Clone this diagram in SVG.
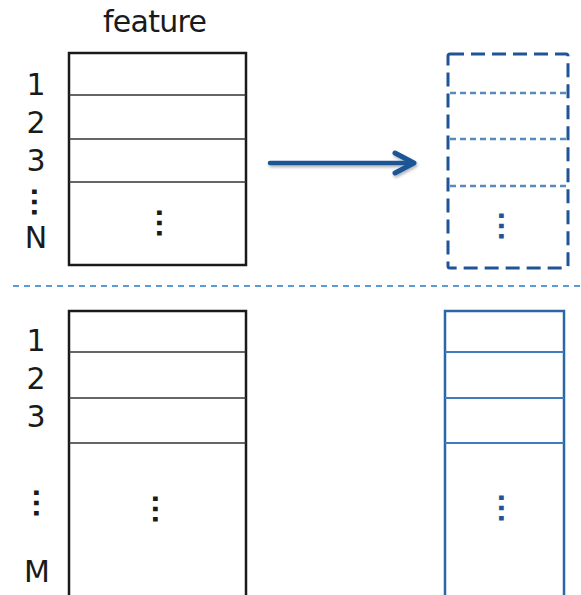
<svg xmlns="http://www.w3.org/2000/svg" width="581" height="595" viewBox="0 0 581 595">
<style>
.t{font-family:"DejaVu Sans","Liberation Sans",sans-serif;font-size:30px;fill:#1a1a1a}
.lbl{text-anchor:middle}
.v{font-family:"Liberation Sans",Arial,sans-serif;font-size:32px;font-weight:bold;fill:#1a1a1a;text-anchor:middle}
.box{fill:#fff;stroke:#1a1a1a;stroke-width:2.5}
.row{stroke:#333;stroke-width:1.5}
.dbox{fill:none;stroke:#1f5596;stroke-width:3;stroke-dasharray:14 7;stroke-linejoin:round}
.drow{stroke:#3d76b3;stroke-width:2.5;stroke-dasharray:6 4;opacity:0.85}
.bbox{fill:#fff;stroke:#2a66a8;stroke-width:2.5}
.brow{stroke:#3f7bbd;stroke-width:1.8}
</style>
<defs>
<filter id="sh" x="-10%" y="-50%" width="120%" height="200%">
<feDropShadow dx="1" dy="2" stdDeviation="1.5" flood-color="#000" flood-opacity="0.3"/>
</filter>
</defs>

<g id="header">
<text class="t" x="155" y="32" text-anchor="middle" textLength="104">feature</text>
</g>

<g id="input-top">
<rect class="box" x="69" y="53" width="177" height="212"/>
<line class="row" x1="69" y1="95" x2="246" y2="95"/>
<line class="row" x1="69" y1="139" x2="246" y2="139"/>
<line class="row" x1="69" y1="182" x2="246" y2="182"/>
<text class="v" transform="translate(156.5,223) rotate(90)">…</text>
</g>

<g id="labels-top">
<text class="t lbl" x="36" y="95">1</text>
<text class="t lbl" x="36" y="133">2</text>
<text class="t lbl" x="36" y="171">3</text>
<text class="v" transform="translate(31.5,202) rotate(90)">…</text>
<text class="t lbl" x="36" y="248">N</text>
</g>

<g id="output-top">
<rect class="dbox" x="448" y="54" width="120" height="214" rx="2"/>
<line class="drow" x1="450" y1="93" x2="566" y2="93"/>
<line class="drow" x1="450" y1="139" x2="566" y2="139"/>
<line class="drow" x1="450" y1="186" x2="566" y2="186"/>
<text class="v" transform="translate(498.5,226) rotate(90)" style="fill:#1f5596">…</text>
</g>

<g id="separator">
<line x1="13" y1="286" x2="580" y2="286" stroke="#5b9bd5" stroke-width="2" stroke-dasharray="6 5"/>
</g>

<g id="input-bottom">
<rect class="box" x="69" y="311" width="177" height="300"/>
<line class="row" x1="69" y1="352" x2="246" y2="352"/>
<line class="row" x1="69" y1="398" x2="246" y2="398"/>
<line class="row" x1="69" y1="443" x2="246" y2="443"/>
<text class="v" transform="translate(152.5,509) rotate(90)">…</text>
</g>

<g id="labels-bottom">
<text class="t lbl" x="36" y="351">1</text>
<text class="t lbl" x="36" y="389">2</text>
<text class="t lbl" x="36" y="427">3</text>
<text class="v" transform="translate(33.5,503) rotate(90)">…</text>
<text class="t lbl" x="37" y="582">M</text>
</g>

<g id="output-bottom">
<rect class="bbox" x="445" y="311" width="119" height="300"/>
<line class="brow" x1="445" y1="352" x2="564" y2="352"/>
<line class="brow" x1="445" y1="398" x2="564" y2="398"/>
<line class="brow" x1="445" y1="443" x2="564" y2="443"/>
<text class="v" transform="translate(498.5,508) rotate(90)" style="fill:#1f5596">…</text>
</g>

<g id="connectors">
<g filter="url(#sh)" stroke="#1f5596" fill="none" stroke-linecap="round" stroke-linejoin="round">
<line x1="270" y1="163" x2="412" y2="163" stroke-width="4.5"/>
<polyline points="395,153 414,163 395,173" stroke-width="5"/>
</g>
</g>
</svg>
